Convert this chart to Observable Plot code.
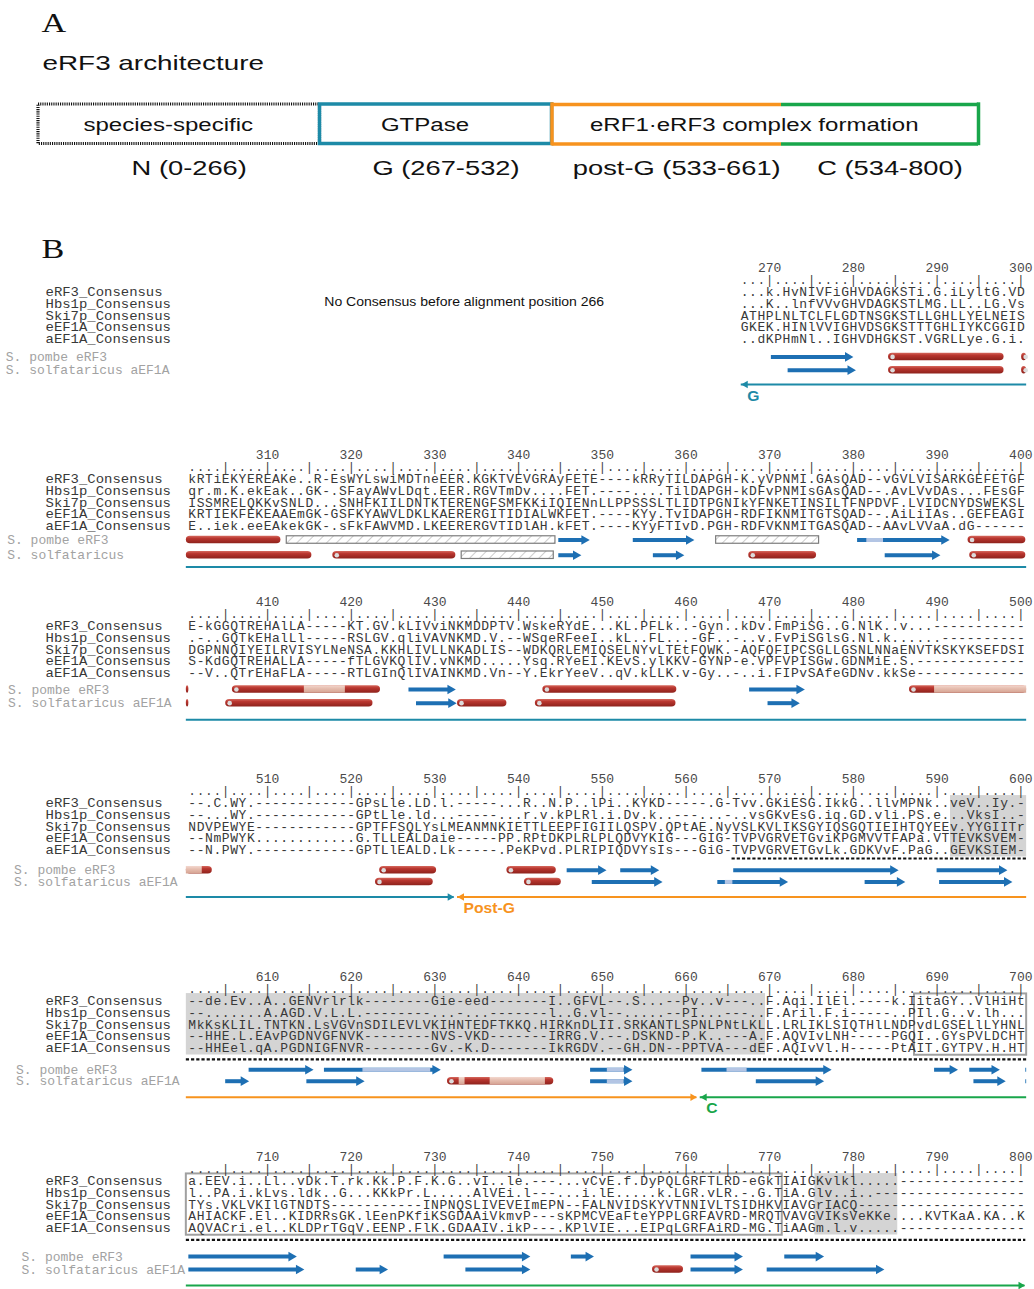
<!DOCTYPE html>
<html>
<head>
<meta charset="utf-8">
<script src="https://cdn.jsdelivr.net/npm/d3@7"></script>
<script src="https://cdn.jsdelivr.net/npm/@observablehq/plot@0.6"></script>
<style>
html,body{margin:0;padding:0;background:#fff;}
#page{position:relative;width:1034px;height:1289px;overflow:hidden;background:#fff;}
#page > div{position:absolute;left:0;}
#page svg{display:block;}
</style>
</head>
<body>
<svg width="0" height="0" style="position:absolute">
<defs>
<linearGradient id="helixGrad" x1="0" y1="0" x2="0" y2="1">
<stop offset="0" stop-color="#d66a5f"/>
<stop offset="0.35" stop-color="#b9362f"/>
<stop offset="1" stop-color="#8e221c"/>
</linearGradient>
<linearGradient id="helixLightGrad" x1="0" y1="0" x2="0" y2="1">
<stop offset="0" stop-color="#f3d8cf"/>
<stop offset="0.4" stop-color="#e7bfb1"/>
<stop offset="1" stop-color="#d5a291"/>
</linearGradient>
<pattern id="hatch" width="7" height="7" patternUnits="userSpaceOnUse" patternTransform="rotate(45)">
<rect width="7" height="7" fill="#fff"/>
<line x1="0" y1="0" x2="0" y2="7" stroke="#9c9c9c" stroke-width="1"/>
</pattern>
</defs>
</svg>
<div id="page"></div>
<script>
// ======================= DATA =======================
const seqNames = ["eRF3_Consensus", "Hbs1p_Consensus", "Ski7p_Consensus", "eEF1A_Consensus", "aEF1A_Consensus"];
const speciesNames = ["S. pombe eRF3", "S. solfataricus aEF1A"];
const speciesNamesBlock2 = ["S. pombe eRF3", "S. solfataricus"];
const noConsensusNote = "No Consensus before alignment position 266";
const blockStarts = [201, 301, 401, 501, 601, 701];

const seq267 = [
  "...k.HvNIVFiGHVDAGKSTi.G.iLyltG.VD",
  "...K..lnfVVvGHVDAGKSTLMG.LL..LG.Vs",
  "ATHPLNLTCLFLGDTNSGKSTLLGHLLYELNEIS",
  "GKEK.HINlVVIGHVDSGKSTTTGHLIYKCGGID",
  "..dKPHmNl..IGHVDHGKST.VGRLLye.G.i."
];
const seq301 = [
  ["kRTiEKYERE","AKe..R-EsW","YLswiMDTne","EER.KGKTVE","VGRAyFETE-","---kRRyTIL","DAPGH-K.yV","PNMI.GAsQA","D--vGVLVIS","ARKGEFETGF"].join(""),
  ["qr.m.K.ekE","ak..GK-.SF","ayAWvLDqt.","EER.RGVTmD","v....FET.-","---....Til","DAPGH-kDFv","PNMIsGAsQA","D--.AvLVvD","As...FEsGF"].join(""),
  ["ISSMRELQKK","vSNLD...SN","HFKIILDNTK","TERENGFSMF","KKiIQIENnL","LPPSSSLTLI","DTPGNIkYFN","KETINSILTF","NPDVF.LVID","CNYDSWEKSL"].join(""),
  ["KRTIEKFEKE","AAEmGK-GSF","KYAWVLDKLK","AERERGITID","IALWKFET.-","---KYy.TvI","DAPGH-RDFI","KNMITGTSQA","D--.AiLiIA","s..GEFEAGI"].join(""),
  ["E..iek.eeE","AkekGK-.sF","kFAWVMD.LK","EERERGVTID","lAH.kFET.-","---KYyFTIv","D.PGH-RDFV","KNMITGASQA","D--AAvLVVa","A.dG------"].join("")
];
const seq401 = [
  ["E-kGGQTREH","AlLA-----K","T.GV.kLIVv","iNKMDDPTV.","WskeRYdE..",".KL.PFLk..","-Gyn..kDv.","FmPiSG..G.","NlK..v...-","----------"].join(""),
  [".-..GQTkEH","alLl-----R","SLGV.qliVA","VNKMD.V.--","WSqeRFeeI.",".kL..FL...","-GF..-..v.","FvPiSGlsG.","Nl.k......","----------"].join(""),
  ["DGPNNQIYEI","LRVISYLNeN","SA.KKHLIVL","LNKADLIS--","WDKQRLEMIQ","SELNYvLTEt","FQWK.-AQFQ","FIPCSGLLGS","NLNNaENVTK","SKYKSEFDSI"].join(""),
  ["S-KdGQTREH","ALLA-----f","TLGVKQlIV.","vNKMD.....","Ysq.RYeEI.","KEvS.ylKKV","-GYNP-e.VP","FVPISGw.GD","NMiE.S.---","----------"].join(""),
  ["--V..QTrEH","aFLA-----R","TLGInQlIVA","INKMD.Vn--","Y.EkrYeeV.",".qV.kLLK.v","-Gy..-..i.","FIPvSAfeGD","Nv.kkSe---","----------"].join("")
];
const seq501 = [
  ["--.C.WY.--","----------","GPsLle.LD.","l.-----...","R..N.P..lP","i..KYKD---","--.G-Tvv.G","KiESG.IkkG","..llvMPNk.",".veV..Iy.-"].join(""),
  ["--...WY.--","----------","GPtLle.ld.","..-----...","r.v.kPLRl.","i.Dv.k..--","-...-..vsG","KvEsG.iq.G","D.vli.PS.e","...VksI..-"].join(""),
  ["NDVPEWYE--","----------","GPTFFSQLYs","LMEANMNKIE","TTLEEPFIGI","ILQSPV.QPt","AE.NyVSLKV","LIKSGYIQSG","QTIEIHTQYE","Ev.YYGIITr"].join(""),
  ["--NmPWYK..","..........","G.TLLEALDa","ie-----PP.","RPtDKPLRLP","LQDVYKIG--","-GIG-TVPVG","RVETGviKPG","MVVTFAPa.V","TTEVKSVEM-"].join(""),
  ["--N.PWY.--","----------","GPTLlEALD.","Lk-----.Pe","KPvd.PLRIP","IQDVYsIs--","-GiG-TVPVG","RVETGvLk.G","DKVvF.PaG.",".GEVKSIEM-"].join("")
];
const seq601 = [
  ["--de.Ev..A","..GENVrlrl","k--------G","ie-eed----","---I..GFVL","--.S...--P","v..v---..F",".Aqi.IlEl.","----k.Iita","GY..VlHiHt"].join(""),
  ["--.......A",".AGD.V.L.L",".--------.","..-...----","---l..G.vl","--.....--P","I...---..F",".Aril.F.i-","----..PIl.","G..v.lh..."].join(""),
  ["MkKsKLIL.T","NTKN.LsVGV","nSDILEVLVK","IHNTEDFTKK","Q.HIRKnDLI","I.SRKANTLS","PNLPNtLKLL",".LRLIKLSIQ","THlLNDPvdL","GSELlLYHNL"].join(""),
  ["--HHE.L.EA","vPGDNVGFNV","K--------N","VS-VKD----","---IRRG.V.","--.DSKND-P",".K..---A.F",".AQVIvLNH-","----PGQI..","GYsPVLDCHT"].join(""),
  ["--HHEel.qA",".PGDNIGFNV","R--------G","v.-K.D----","---IkRGDV.","--GH.DN--P","PTVA---dEF",".AQIvVl.H-","----PtAIT.","GYTPV.H.HT"].join("")
];
const seq701 = [
  ["a.EEV.i..L","l..vDk.T.r","k.Kk.P.F.K",".G..vI..le",".---...vCv","E.f.DyPQLG","RFTLRD-eGk","TIAIGKvlkl",".....-----","----------"].join(""),
  ["l..PA.i.kL","vs.ldk..G.","..KKkPr.L.","....AlVEi.","l---...i.l","E.....k.LG","R.vLR.-.G.","TiA.Glv..i","..--------","----------"].join(""),
  ["TYs.VKLVKI","lGTNDTS---","--------IN","PNQSLIVEVE","ImEPN--FAL","NVIDSKYVTN","NIVLTSIDHK","VIAVGrIACQ","----------","----------"].join(""),
  ["AHIACKF.El","..KIDRRsGK",".lEenPKfiK","SGDAAiVkmv","P---sKPMCV","EaFteYPPLG","RFAVRD-MRQ","TVAVGVIKsV","eKKe....KV","TKaA.KA..K"].join(""),
  ["AQVACri.el","..KLDPrTGq","V.EENP.FlK",".GDAAIV.ik","P---.KPlVI","E...EIPqLG","RFAiRD-MG.","TiAAGm.l.v",".....-----","----------"].join("")
];
const blockSeqs = [seq267, seq301, seq401, seq501, seq601, seq701];

// secondary structure: [start, end] in alignment positions
const pombeHelices = [[284.2,298.0],[300.1,311.6],[393.7,400.6],[405.8,423.5],[442.9,458.9],[486.7,503.4],[523.4,530.2],[538.6,544.5]];
const pombeHelixLight = [[414.4,419.3],[489.7,502.2]];
const solfHelices = [[284.2,298.0],[300.1,315.3],[317.8,332.5],[367.5,375.6],[393.9,400.6],[405.0,422.6],[432.7,438.6],[442.0,458.8],[522.9,529.8],[540.7,545.1],[631.5,644.2],[756.0,759.7]];
const solfHelixLight = [[632.9,633.6],[636.6,643.2]];
const pombeStrands = [[270.2,280.0],[344.8,348.5],[353.7,361.0],[380.5,391.5],[426.9,432.5],[467.6,474.2],[545.8,550.5],[552.2,556.8],[565.7,585.4],[590.0,598.4],[607.8,615.5],[616.8,630.7],[648.6,653.6],[661.9,677.4],[689.7,692.5],[693.9,697.5],[700.6,713.5],[731.1,741.4],[746.3,749.0],[760.6,766.8],[771.8,776.5]];
const pombeStrandLight = [[381.6,383.6],[621.4,629.5],[650.6,652.6],[664.9,667.3]];
const solfStrands = [[272.2,280.3],[344.8,347.5],[356.1,359.8],[383.8,390.4],[427.8,432.6],[469.8,473.6],[548.8,557.2],[563.8,572.2],[581.4,586.2],[590.3,599.0],[605.0,607.8],[614.7,621.6],[648.6,653.6],[668.4,676.5],[694.4,698.2],[700.6,714.4],[720.6,724.4],[733.7,741.4],[760.6,766.8],[769.7,783.7]];
const solfStrandLight = [[564.7,565.6],[650.6,652.6]];
const pombeHatched = [[312.3,344.4],[363.6,375.9]];
const solfHatched = [[333.2,344.2]];

const domainNames = ["G", "Post-G", "C"];
const domainStarts = [266.6, 532.7, 661.7];
const domainEnds = [532.3, 661.3, 800.5];
const shadedRanges = [[591.6,669.5],[775.4,785.3]];
const boxedRanges = [[687.3,771.5]];
const dashedRanges = [[565.5,800.6]];

// panel A
const archBoxLabels = ["species-specific", "GTPase", "eRF1·eRF3 complex formation"];
const archRangeLabels = ["N (0-266)", "G (267-532)", "post-G (533-661)", "C (534-800)"];
const archSegments = [[0,266],[267,532],[533,661],[662,800]];
const archTitle = "eRF3 architecture";
const panelLetters = ["A", "B"];

// ======================= STYLE / LAYOUT =======================
const MONO = "Liberation Mono, Cousine, DejaVu Sans Mono, monospace";
const SANS = "Liberation Sans, Arimo, Arial, sans-serif";
const SERIF = "Liberation Serif, Tinos, Times New Roman, serif";
const TEAL = "#1d8aa7", ORANGE = "#f7931e", GREEN = "#19a64b";
const BLUE = "#1d6fb3", LIGHTBLUE = "#b3c5e4";
const domainColor = {"G": TEAL, "Post-G": ORANGE, "C": GREEN};
const W = 1034, COL = 8.37, LINE = 11.7;
const ML = 187.5, MR = W - ML - 100 * COL;
const ROW0 = 2.05, RULER_Y = 1.0, NAME_LEFT = 45;
const blockLayout = [
  {top: 268,    pombe: 7.58, solf: 8.72, domain: 9.94,  indent: 5.3},
  {top: 455,    pombe: 7.25, solf: 8.55, domain: 9.55,  indent: 6.7},
  {top: 601.7,  pombe: 7.46, solf: 8.63, domain: 10.05, indent: 7.5},
  {top: 779,    dashed: 6.78, pombe: 7.78, solf: 8.78, domain: 10.06, indent: 13.5},
  {top: 976.7,  dashed: 7.03, pombe: 7.91, solf: 8.89, domain: 10.26, indent: 15.5},
  {top: 1156.7, dashed: 7.06, pombe: 8.49, solf: 9.6,  domain: 10.97, indent: 21}
];

function applyStretch(svg) {
  svg.querySelectorAll("g[aria-description^='stretch:']").forEach(g => {
    const s = parseFloat(g.getAttribute("aria-description").split(":")[1]);
    g.querySelectorAll("text").forEach(t => {
      const tr = t.getAttribute("transform");
      if (tr) t.setAttribute("transform", tr + ` scale(${s},1)`);
      else {
        const x = +(t.getAttribute("x") || 0), y = +(t.getAttribute("y") || 0);
        t.removeAttribute("x"); t.removeAttribute("y");
        t.setAttribute("transform", `translate(${x},${y}) scale(${s},1)`);
      }
    });
  });
  return svg;
}

const page = document.getElementById("page");
function place(svg, top) {
  const d = document.createElement("div");
  d.style.top = top + "px";
  d.appendChild(svg);
  page.appendChild(d);
}

// ======================= PANEL A =======================
(function () {
  const archDomain = [archSegments[0][0] - 0.5, ...archSegments.map(s => s[1] + 0.5)];
  const archRange = [38, 319.5, 551.5, 781, 978];
  const ax = d3.scaleLinear(archDomain, archRange);
  const midOf = (a, b) => ax.invert((ax(a) + ax(b)) / 2);
  const boxSpans = [[archDomain[0], archDomain[1]], [archDomain[1], archDomain[2]], [archDomain[2], archDomain[4]]];
  const boxMid = boxSpans.map(s => midOf(s[0], s[1]));
  const segMid = archSegments.map(s => midOf(s[0] - 0.5, s[1] + 0.5));
  const AY = {letter: 2.3, title: 6.3, boxTop: 10.4, boxBottom: 14.35, boxText: 12.45, rangeText: 16.8, letterB: 24.9};
  const pgS = archDomain[2], pgE = archDomain[3], cE = archDomain[4];
  const svg = Plot.plot({
    width: W, height: 255, margin: 0,
    x: {type: "linear", domain: archDomain, range: archRange, axis: null},
    y: {domain: [0, 25.5], reverse: true, axis: null},
    style: {background: "transparent", overflow: "visible"},
    marks: [
      Plot.rect([boxSpans[0]], {x1: d => d[0], x2: d => d[1], y1: () => AY.boxTop, y2: () => AY.boxBottom, fill: "none", stroke: "#111", strokeWidth: 3.2, strokeDasharray: "1.1,1.1"}),
      Plot.rect([boxSpans[1]], {x1: d => d[0], x2: d => d[1], y1: () => AY.boxTop, y2: () => AY.boxBottom, fill: "none", stroke: TEAL, strokeWidth: 3.5}),
      Plot.ruleY([AY.boxTop, AY.boxBottom], {y: d => d, x1: () => pgS, x2: () => pgE, stroke: ORANGE, strokeWidth: 3.5}),
      Plot.ruleY([AY.boxTop, AY.boxBottom], {y: d => d, x1: () => pgE, x2: () => cE, stroke: GREEN, strokeWidth: 3.5}),
      Plot.ruleX([pgS], {x: d => d, y1: () => AY.boxTop - 0.17, y2: () => AY.boxBottom + 0.17, stroke: ORANGE, strokeWidth: 3.5}),
      Plot.ruleX([cE], {x: d => d, y1: () => AY.boxTop - 0.17, y2: () => AY.boxBottom + 0.17, stroke: GREEN, strokeWidth: 3.5}),
      Plot.text(archBoxLabels, {x: (d, i) => boxMid[i], y: () => AY.boxText, text: d => d, dx: -11, fontFamily: SANS, fontSize: 18.5, fill: "#111", ariaDescription: "stretch:1.3"}),
      Plot.text(archRangeLabels, {x: (d, i) => segMid[i], y: () => AY.rangeText, text: d => d, dx: 10, fontFamily: SANS, fontSize: 19.5, fill: "#111", ariaDescription: "stretch:1.4"}),
      Plot.text([archTitle], {x: () => archDomain[0], y: () => AY.title, text: d => d, textAnchor: "start", dx: 4, fontFamily: SANS, fontSize: 20.5, fill: "#111", ariaDescription: "stretch:1.36"}),
      Plot.text(panelLetters, {x: () => archDomain[0], y: (d, i) => i ? AY.letterB : AY.letter, text: d => d, textAnchor: "start", dx: 3, fontFamily: SERIF, fontSize: 28, fill: "#111", ariaDescription: "stretch:1.22"})
    ]
  });
  place(applyStretch(svg), 0);
})();

// ======================= PANEL B =======================
function blockPlot(i) {
  const B = blockStarts[i], L = blockLayout[i], rows = blockSeqs[i];
  const lo = B - 0.5, hi = B + 99.5;
  const first = B + 100 - rows[0].length;
  const within = r => r[1] > lo - 0.3 && r[0] < hi + 0.3;
  const clipR = (r, extra) => Object.assign({x1: Math.max(r[0], lo - 0.2), x2: Math.min(r[1], hi + 0.2), s: r[0], e: r[1]}, extra || {});
  const chars = rows.flatMap((str, k) => Array.from(str, (c, j) => ({x: first + j, y: ROW0 + k, c})));
  const ruler = d3.range(first, B + 100).map(p => ({x: p, c: p % 5 ? "." : "|"}));
  const ticks = d3.range(Math.ceil(first / 10) * 10, B + 100, 10);
  const nameX = lo - (ML - NAME_LEFT) / COL;
  const spX = lo - (ML - L.indent) / COL;
  const species = i === 1 ? speciesNamesBlock2 : speciesNames;
  const tracks = [
    {y: L.pombe, hel: pombeHelices, hl: pombeHelixLight, st: pombeStrands, sl: pombeStrandLight, ha: pombeHatched},
    {y: L.solf, hel: solfHelices, hl: solfHelixLight, st: solfStrands, sl: solfStrandLight, ha: solfHatched}
  ];
  const pick = key => tracks.flatMap(t => t[key].filter(within).map(r => clipR(r, {y: t.y})));
  const hel = pick("hel"), hl = pick("hl"), st = pick("st"), sl = pick("sl"), ha = pick("ha");
  const caps = hel.filter(d => d.s >= lo - 0.3);
  const heads = st.filter(d => d.e <= hi + 0.3);
  const shafts = st.map(d => Object.assign({}, d, {x2: d.e <= hi + 0.3 ? d.x2 - 0.6 : d.x2}));
  const shade = shadedRanges.filter(within).map(r => clipR(r));
  const boxes = boxedRanges.filter(within).map(r => clipR(r));
  const dashed = L.dashed == null ? [] : dashedRanges.filter(within).map(r => clipR(r));
  const doms = domainNames.map((n, k) => [domainStarts[k], domainEnds[k], n]).filter(within)
    .map(r => clipR(r, {n: r[2], c: domainColor[r[2]]}));
  const domL = doms.filter(d => d.s >= lo - 0.3), domR = doms.filter(d => d.e <= hi + 0.3);

  const marks = [
    Plot.rect(shade, {x1: "x1", x2: "x2", y1: () => ROW0 - 0.65, y2: () => ROW0 + 4.6, fill: "#d4d4d4"}),
    Plot.rect(boxes, {x1: "x1", x2: "x2", y1: () => ROW0 - 0.62, y2: () => ROW0 + 4.62, fill: "none", stroke: "#a0a0a0", strokeWidth: 2}),
    Plot.text(ticks, {x: d => d, y: () => 0, text: d => String(d), fontFamily: MONO, fontSize: 13, fill: "#4a4a4a"}),
    Plot.text(ruler, {x: "x", y: () => RULER_Y, text: "c", fontFamily: MONO, fontSize: 12, fill: "#3a3a3a"}),
    Plot.text(chars, {x: "x", y: "y", text: "c", fontFamily: MONO, fontSize: 13, fill: "#383838"}),
    Plot.text(seqNames, {x: () => nameX, y: (d, k) => ROW0 + k, text: d => d, textAnchor: "start", fontFamily: MONO, fontSize: 13, fill: "#383838", ariaDescription: "stretch:1.073"}),
    Plot.text(species, {x: () => spX, y: (d, k) => k ? L.solf : L.pombe, text: d => d, textAnchor: "start", fontFamily: MONO, fontSize: 13, fill: "#a2a2a2"}),
    Plot.ruleY(dashed, {y: () => L.dashed, x1: "x1", x2: "x2", stroke: "#111", strokeWidth: 2.2, strokeDasharray: "3.2,2"}),
    Plot.rect(ha, {x1: "x1", x2: "x2", y1: d => d.y - 0.32, y2: d => d.y + 0.32, fill: "url(#hatch)", stroke: "#7d7d7d", strokeWidth: 1.2}),
    Plot.rect(hel, {x1: "x1", x2: "x2", y1: d => d.y - 0.32, y2: d => d.y + 0.32, fill: "url(#helixGrad)", rx: 4}),
    Plot.rect(hl, {x1: "x1", x2: "x2", y1: d => d.y - 0.32, y2: d => d.y + 0.32, fill: "url(#helixLightGrad)"}),
    Plot.dot(caps, {x: "s", y: "y", dx: 4, r: 2.3, fill: "#dcdcdc"}),
    Plot.ruleY(shafts, {y: "y", x1: "x1", x2: "x2", stroke: BLUE, strokeWidth: 4}),
    Plot.ruleY(sl, {y: "y", x1: "x1", x2: "x2", stroke: LIGHTBLUE, strokeWidth: 4}),
    Plot.dot(heads, {x: "e", y: "y", symbol: "triangle", rotate: 90, r: 3.6, fill: BLUE, dx: -5.6}),
    Plot.ruleY(doms, {y: () => L.domain, x1: "x1", x2: "x2", stroke: "c", strokeWidth: 2}),
    Plot.dot(domL, {x: "s", y: () => L.domain, symbol: "triangle", rotate: -90, r: 2.8, fill: "c", dx: 4.3}),
    Plot.dot(domR, {x: "e", y: () => L.domain, symbol: "triangle", rotate: 90, r: 2.8, fill: "c", dx: -4.3}),
    Plot.text(domL, {x: "s", y: () => L.domain + 1, text: "n", fill: "c", textAnchor: "start", dx: 6, fontFamily: SANS, fontSize: 14, fontWeight: "bold", ariaDescription: "stretch:1.12"})
  ];
  if (first > B) {
    marks.push(Plot.text([noConsensusNote], {x: () => (lo + first - 0.5) / 2, y: () => 2.88, text: d => d, fontFamily: SANS, fontSize: 13, fill: "#111", ariaDescription: "stretch:1.08"}));
  }
  const svg = Plot.plot({
    width: W, height: 13 * LINE,
    marginLeft: ML, marginRight: MR, marginTop: 0, marginBottom: 0,
    x: {domain: [lo, hi], axis: null},
    y: {domain: [-1, 12], reverse: true, axis: null},
    color: {type: "identity"},
    style: {background: "transparent", overflow: "visible"},
    marks
  });
  place(applyStretch(svg), L.top - LINE);
}
blockStarts.forEach((_, i) => blockPlot(i));
</script>
</body>
</html>
